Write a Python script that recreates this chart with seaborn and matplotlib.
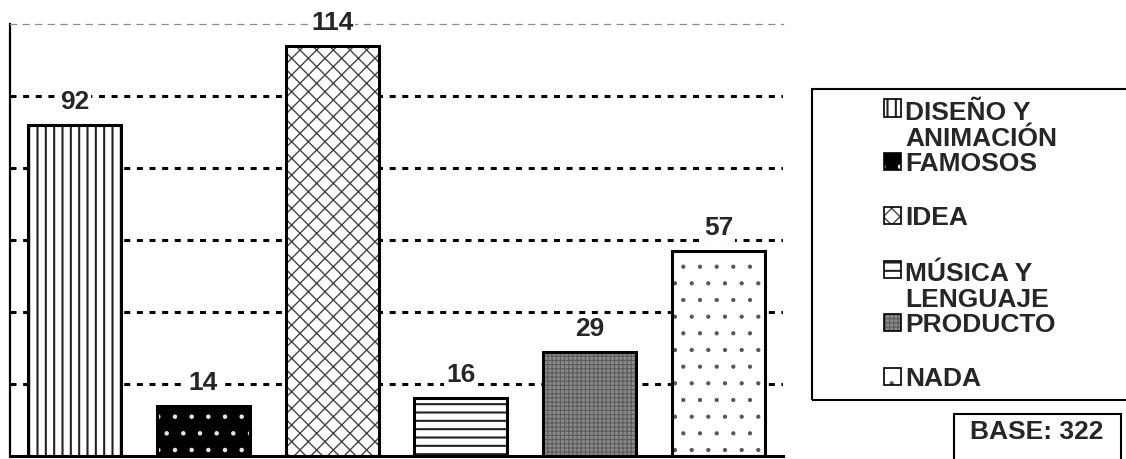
import matplotlib
matplotlib.use("Agg")
import matplotlib.pyplot as plt
from matplotlib.patches import Rectangle
import seaborn as sns
import pandas as pd

# ---- data ----
categories = ["DISEÑO Y ANIMACIÓN", "FAMOSOS", "IDEA", "MÚSICA Y LENGUAJE", "PRODUCTO", "NADA"]
values = [92, 14, 114, 16, 29, 57]
base_text = "BASE: 322"

# ---- styles ----
faces = ["white", "black", "white", "white", "#8a8a8a", "white"]
hatches = ["||", ".", "xx", "--", "++++", "."]
hatch_colors = ["#222222", "#e8e8e8", "#444444", "#222222", "#5c5c5c", "#555555"]
hatch_lws = [1.5, 0.8, 1.0, 1.5, 0.8, 0.6]

sns.set_style("white")
plt.rcParams["font.family"] = ["Liberation Sans", "DejaVu Sans"]
plt.rcParams["font.weight"] = "bold"
plt.rcParams["lines.scale_dashes"] = False
plt.rcParams["hatch.linewidth"] = 1.0

W, H = 1126, 459
fig = plt.figure(figsize=(W / 100, H / 100), dpi=100)


def fx(px):
    return px / W


def fy(py):
    return 1 - py / H


def set_hlw(patch, lw):
    if hasattr(patch, "set_hatch_linewidth"):
        patch.set_hatch_linewidth(lw)
    else:
        patch._hatch_linewidth = lw


ax = fig.add_axes([fx(10), fy(456), fx(783) - fx(10), (456 - 24) / H])

df = pd.DataFrame({"cat": categories, "val": values})
sns.barplot(data=df, x="cat", y="val", hue="cat", palette=faces, legend=False,
            width=0.723, ax=ax, saturation=1)

ax.set_xlim(-0.5, 5.5)
ax.set_ylim(0, 120)
ax.set_yticks([20, 40, 60, 80, 100])
ax.set_axisbelow(True)
ax.yaxis.grid(True, color="black", linewidth=2.2, linestyle=(0, (4.3, 4.8)))
ax.xaxis.grid(False)
ax.set_xticks([])
ax.tick_params(axis="y", length=0, labelleft=False)
ax.set_xlabel("")
ax.set_ylabel("")

ax.spines["right"].set_visible(False)
ax.spines["top"].set_visible(True)
ax.spines["top"].set_color("#8c8c8c")
ax.spines["top"].set_linewidth(0.9)
ax.spines["top"].set_linestyle((0, (4.3, 4.8)))
ax.spines["left"].set_color("black")
ax.spines["left"].set_linewidth(1.6)
ax.spines["bottom"].set_color("black")
ax.spines["bottom"].set_linewidth(2.2)

bars = list(ax.patches)
for p, fc, h, hc, hl in zip(bars, faces, hatches, hatch_colors, hatch_lws):
    p.set_facecolor(fc)
    p.set_hatch(h)
    p.set_edgecolor(hc)
    p.set_linewidth(0)
    set_hlw(p, hl)
    ax.add_patch(Rectangle((p.get_x(), p.get_y()), p.get_width(), p.get_height(),
                           fill=False, edgecolor="black", linewidth=2.2, zorder=3))

for p, v in zip(bars, values):
    ax.annotate(str(v), (p.get_x() + p.get_width() / 2, p.get_height()),
                xytext=(0, 11.5), textcoords="offset points", ha="center", va="baseline",
                fontsize=19, fontweight="bold", zorder=4,
                bbox=dict(boxstyle="square,pad=0.08", fc="white", ec="none"))

# ---- legend (drawn manually to mimic fixed slots) ----
fig.patches.append(Rectangle((fx(812), fy(400)), fx(1132) - fx(812), (400 - 89) / H,
                             transform=fig.transFigure, fill=False, edgecolor="black",
                             linewidth=1.5))
slot0, slot_dy, line_gap = 108, 53.7, 28
for i, (cat, fc, h, hc, hl) in enumerate(zip(categories, faces, hatches, hatch_colors, hatch_lws)):
    cy = slot0 + i * slot_dy
    r = Rectangle((fx(884), fy(cy + 8.5)), 17 / W, 17 / H, transform=fig.transFigure,
                  facecolor=fc, hatch=h, edgecolor=hc, linewidth=0)
    set_hlw(r, hl)
    fig.patches.append(r)
    fig.patches.append(Rectangle((fx(884), fy(cy + 8.5)), 17 / W, 17 / H,
                                 transform=fig.transFigure, fill=False,
                                 edgecolor="black", linewidth=1.2))
    label = cat.replace(" Y ", " Y\n")
    nl = label.count("\n")
    fig.text(fx(905), fy(cy + 9.5 + nl * line_gap), label, ha="left", va="baseline",
             fontsize=19, fontweight="bold", linespacing=1.06)

# ---- base box ----
fig.patches.append(Rectangle((fx(954), fy(470)), fx(1121) - fx(954), (470 - 414) / H,
                             transform=fig.transFigure, fill=False, edgecolor="black",
                             linewidth=1.5))
fig.text(fx(1037), fy(439), base_text, ha="center", va="baseline", fontsize=19,
         fontweight="bold")

fig.savefig("out.png", dpi=100)
